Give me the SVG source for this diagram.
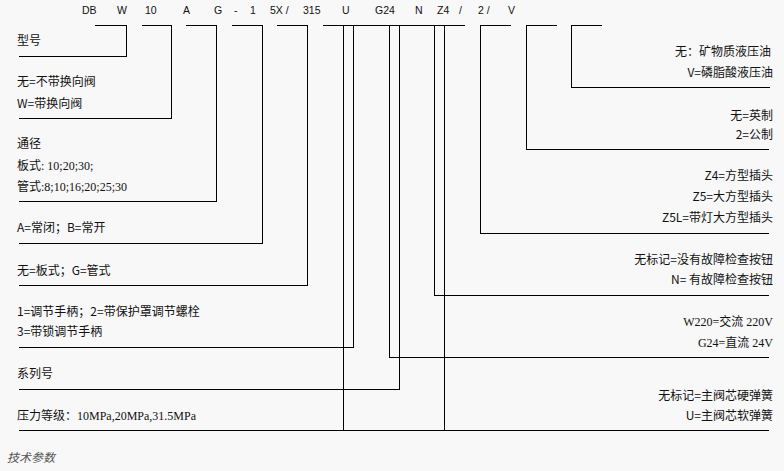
<svg xmlns="http://www.w3.org/2000/svg" width="784" height="471" viewBox="0 0 784 471">
<style>
.bg{fill:#f8f8f8}
.ln{fill:none;stroke:#000;stroke-width:1;shape-rendering:crispEdges}
.code{font-family:"Liberation Sans","Noto Sans CJK SC",sans-serif;font-size:10.5px;fill:#111}
.t{font-family:"Noto Sans CJK SC",sans-serif;font-size:12px;fill:#111}
.s{font-family:"Liberation Serif","Noto Sans CJK SC",serif;font-size:12px;fill:#111}
.r{text-anchor:end}
.note{font-family:"Noto Sans CJK SC",sans-serif;font-size:12px;font-style:italic;fill:#555}
</style>
<rect class="bg" x="0" y="0" width="784" height="471"/>
<g id="codes" class="code">
<text x="82" y="14">DB</text>
<text x="117" y="14">W</text>
<text x="145" y="14">10</text>
<text x="183" y="14">A</text>
<text x="214" y="14">G</text>
<text x="234" y="14">-</text>
<text x="250" y="14">1</text>
<text x="270" y="14">5X /</text>
<text x="303" y="14">315</text>
<text x="342" y="14">U</text>
<text x="375" y="14">G24</text>
<text x="415" y="14">N</text>
<text x="437" y="14">Z4</text>
<text x="459" y="14">/</text>
<text x="478" y="14">2 /</text>
<text x="508" y="14">V</text>
</g>
<g id="connectors" class="ln">
<path d="M95,25.5H126.5V56.5H19"/>
<path d="M142,25.5H171.5V118.5H19"/>
<path d="M186,25.5H216.5V201.5H19"/>
<path d="M232,25.5H262.5V243.5H19"/>
<path d="M277,25.5H307.5V285.5H19"/>
<path d="M323,25.5H465"/>
<path d="M343.5,25.5V430.5"/>
<path d="M353.5,25.5V347.5H19"/>
<path d="M389.5,25.5V357.5H769"/>
<path d="M399.5,25.5V389.5H19"/>
<path d="M434.5,25.5V295.5H769"/>
<path d="M444.5,25.5V430.5"/>
<path d="M19,430.5H769"/>
<path d="M511,25.5H480.5V233.5H769"/>
<path d="M557,25.5H526.5V149.5H769"/>
<path d="M602,25.5H571.5V87.5H770"/>
</g>
<g id="n-model"><text class="t" x="17" y="45">型号</text></g>
<g id="n-w"><text class="t" x="17" y="86">无=不带换向阀</text><text class="t" x="17" y="108">W=带换向阀</text></g>
<g id="n-size"><text class="t" x="17" y="148">通径</text><text class="s" x="17" y="170">板式: 10;20;30;</text><text class="s" x="17" y="191">管式:8;10;16;20;25;30</text></g>
<g id="n-ab"><text class="t" x="17" y="232">A=常闭；B=常开</text></g>
<g id="n-g"><text class="t" x="17" y="275">无=板式；G=管式</text></g>
<g id="n-adj"><text class="t" x="17" y="316">1=调节手柄；2=带保护罩调节螺栓</text><text class="t" x="17" y="336">3=带锁调节手柄</text></g>
<g id="n-series"><text class="t" x="17" y="378">系列号</text></g>
<g id="n-press"><text class="s" x="17" y="420">压力等级：10MPa,20MPa,31.5MPa</text></g>
<g id="n-oil"><text class="t r" x="771" y="56">无：矿物质液压油</text><text class="t r" x="773" y="77">V=磷脂酸液压油</text></g>
<g id="n-unit"><text class="t r" x="773" y="120">无=英制</text><text class="t r" x="773" y="139">2=公制</text></g>
<g id="n-plug"><text class="t r" x="773" y="180">Z4=方型插头</text><text class="t r" x="773" y="201">Z5=大方型插头</text><text class="t r" x="773" y="222">Z5L=带灯大方型插头</text></g>
<g id="n-btn"><text class="t r" x="773" y="264">无标记=没有故障检查按钮</text><text class="t r" x="773" y="284">N= 有故障检查按钮</text></g>
<g id="n-volt"><text class="s r" x="773" y="326">W220=交流 220V</text><text class="s r" x="773" y="347">G24=直流 24V</text></g>
<g id="n-spring"><text class="t r" x="773" y="400">无标记=主阀芯硬弹簧</text><text class="t r" x="773" y="420">U=主阀芯软弹簧</text></g>
<g id="n-note"><text class="note" x="7" y="462">技术参数</text></g>
</svg>
